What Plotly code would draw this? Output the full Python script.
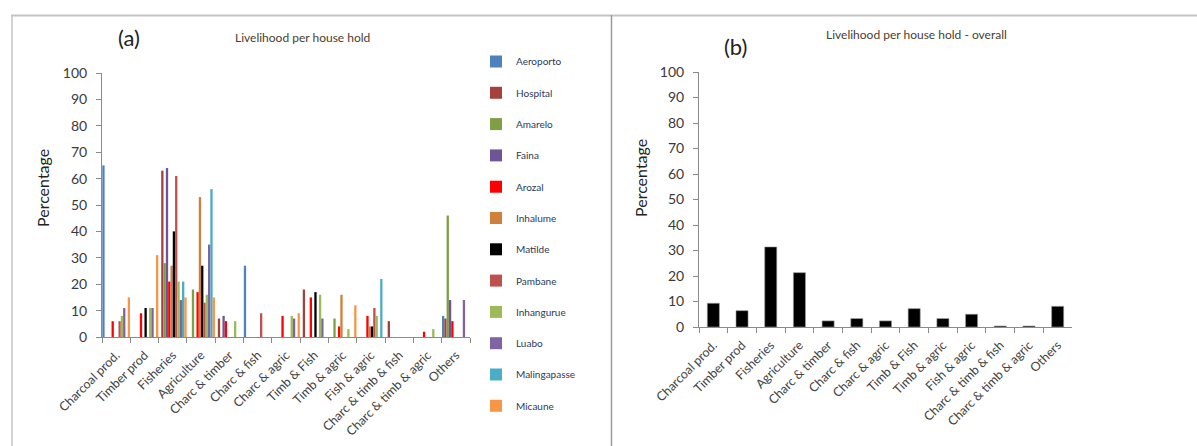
import plotly.graph_objects as go

categories = ["Charcoal prod.", "Timber prod", "Fisheries", "Agriculture", "Charc & timber",
              "Charc & fish", "Charc & agric", "Timb & Fish", "Timb & agric", "Fish & agric",
              "Charc & timb & fish", "Charc & timb & agric", "Others"]

aeroporto    = [65, 0, 0, 0, 0, 27, 0, 0, 0, 0, 0, 0, 8]
hospital     = [0, 0, 63, 0, 7, 0, 0, 18, 0, 0, 6, 0, 7]
amarelo      = [0, 0, 28, 18, 0, 0, 0, 0, 7, 0, 0, 0, 46]
faina        = [0, 0, 64, 0, 8, 0, 0, 0, 0, 0, 0, 0, 14]
arozal       = [6, 9, 21, 17, 6, 0, 8, 15, 4, 8, 0, 2, 6]
inhalume     = [0, 0, 27, 53, 0, 0, 0, 0, 16, 4, 0, 0, 0]
matilde      = [0, 11, 40, 27, 0, 0, 0, 17, 0, 4, 0, 0, 0]
pambane      = [6, 0, 61, 13, 0, 9, 0, 0, 0, 11, 0, 0, 0]
inhangurue   = [8, 11, 21, 16, 6, 0, 8, 16, 3, 8, 0, 3, 0]
luabo        = [11, 11, 14, 35, 0, 0, 7, 7, 0, 0, 0, 0, 14]
malingapasse = [0, 0, 21, 56, 0, 0, 0, 0, 0, 22, 0, 0, 0]
micaune      = [15, 31, 15, 15, 0, 0, 9, 0, 12, 0, 0, 0, 0]

overall = [9.3, 6.4, 31.4, 21.3, 2.4, 3.3, 2.4, 7.2, 3.3, 5.0, 0.4, 0.4, 8.1]

series_names = ["Aeroporto", "Hospital", "Amarelo", "Faina", "Arozal", "Inhalume",
                "Matilde", "Pambane", "Inhangurue", "Luabo", "Malingapasse", "Micaune"]
series_values = [aeroporto, hospital, amarelo, faina, arozal, inhalume,
                 matilde, pambane, inhangurue, luabo, malingapasse, micaune]
series_colors = ["#4F81BD", "#A5403D", "#7F9F45", "#6F5597", "#FF0000", "#D0803A",
                 "#000000", "#C0504D", "#9BBB59", "#8064A2", "#4BACC6", "#F79646"]

W, H = 1197, 446
def px(x): return x / W
def py(y): return 1 - y / H

FONT = "Lato"
TXT = "#444444"
AX = "#8a8a8a"

fig = go.Figure()
for name, vals, col in zip(series_names, series_values, series_colors):
    fig.add_trace(go.Bar(x=categories, y=vals, name=name, marker_color=col,
                         marker_line_width=0, xaxis="x", yaxis="y",
                         legendgroup=name))

fig.add_trace(go.Bar(x=categories, y=overall, name="Overall", marker_color="#000000",
                     marker_line=dict(color="#9a9a9a", width=0.6), width=0.42,
                     xaxis="x2", yaxis="y2", showlegend=False))

yax = dict(range=[0, 100], dtick=10, showgrid=False, showline=True, linecolor=AX,
           ticks="outside", tickcolor=AX, ticklen=5, ticklabelstandoff=6, automargin=False,
           tickfont=dict(family=FONT, size=14, color="#3a3a3a"), zeroline=False)
xax = dict(showgrid=False, showline=True, linecolor=AX, ticks="outside", tickcolor=AX,
           ticklen=5, tickson="boundaries", tickangle=-45, automargin=False,
           ticklabelstandoff=5,
           tickfont=dict(family=FONT, size=12.5, color=TXT))

fig.update_layout(
    template="none",
    width=W, height=H, margin=dict(l=0, r=0, t=0, b=0, pad=0, autoexpand=False),
    plot_bgcolor="white", paper_bgcolor="white",
    barmode="group", bargap=0.02, bargroupgap=0,
    xaxis=dict(xax, domain=[px(102), px(470)], anchor="y"),
    yaxis=dict(yax, domain=[py(337), py(73)], anchor="x"),
    xaxis2=dict(xax, domain=[px(699), px(1072)], anchor="y2"),
    yaxis2=dict(yax, domain=[py(327), py(72)], anchor="x2"),
    legend=dict(x=px(476), y=py(47), xanchor="left", yanchor="top",
                font=dict(family=FONT, size=10, color="#2a3a5a"),
                traceorder="grouped", tracegroupgap=12.3, bgcolor="rgba(0,0,0,0)"),
    showlegend=True,
)

annotations = [
    dict(x=px(129), y=py(37), text="(a)", font=dict(family=FONT, size=22, color="#222")),
    dict(x=px(302), y=py(37), text="Livelihood per house hold", font=dict(family=FONT, size=12, color="#4a4030")),
    dict(x=px(735), y=py(46.5), text="(b)", font=dict(family=FONT, size=22, color="#222")),
    dict(x=px(916), y=py(34.5), text="Livelihood per house hold - overall", font=dict(family=FONT, size=12, color="#4a4030")),
    dict(x=px(42), y=py(188), text="Percentage", textangle=-90, font=dict(family=FONT, size=16, color="#222")),
    dict(x=px(640), y=py(178), text="Percentage", textangle=-90, font=dict(family=FONT, size=16, color="#222")),
]
for a in annotations:
    a.update(xref="paper", yref="paper", showarrow=False, xanchor="center", yanchor="middle")
fig.update_layout(annotations=annotations)

shapes = [
    dict(type="line", x0=px(11), x1=1, y0=py(15.5), y1=py(15.5), line=dict(color="#c4c4c4", width=2)),
    dict(type="line", x0=px(12), x1=px(12), y0=py(15), y1=0, line=dict(color="#c4c4c4", width=1.5)),
    dict(type="line", x0=px(611.5), x1=px(611.5), y0=py(15), y1=0, line=dict(color="#9a9a9a", width=1.5)),
]
for s in shapes:
    s.update(xref="paper", yref="paper")
fig.update_layout(shapes=shapes)

fig.write_html("out.html", config={"displayModeBar": False},
               post_script="document.body.style.margin='0';document.body.style.overflow='hidden';")
